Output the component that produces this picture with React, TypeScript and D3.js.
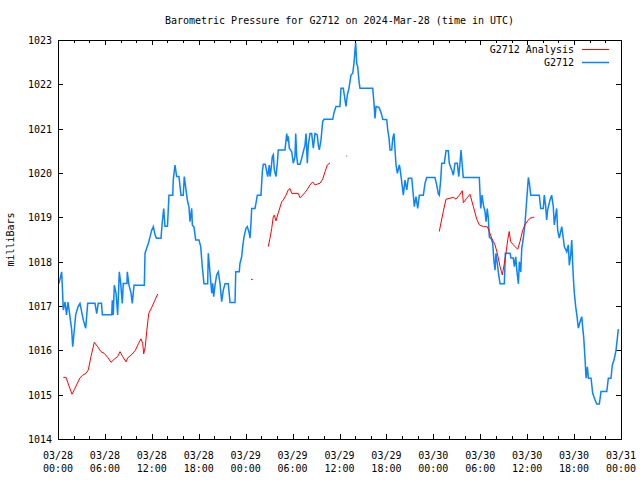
import React from "react";
import * as d3 from "d3";

const titleText = "Barometric Pressure for G2712 on 2024-Mar-28 (time in UTC)";
const yLabel = "milliBars";
const seriesNames = ["G2712 Analysis", "G2712"];
const xTickDates = ["03/28", "03/28", "03/28", "03/28", "03/29", "03/29", "03/29", "03/29", "03/30", "03/30", "03/30", "03/30", "03/31"];
const xTickTimes = ["00:00", "06:00", "12:00", "18:00", "00:00", "06:00", "12:00", "18:00", "00:00", "06:00", "12:00", "18:00", "00:00"];
const yTicks = [1014, 1015, 1016, 1017, 1018, 1019, 1020, 1021, 1022, 1023];

// hours since 03/28 00:00 UTC, pressure (mb)
const g2712: [number, number][] = [
  [0.13, 1017.51], [0.47, 1017.77], [0.68, 1016.91], [0.9, 1017.09], [1.09, 1016.8], [1.28, 1017.09], [1.47, 1016.84],
  [1.75, 1016.46], [1.88, 1016.08], [2.05, 1016.39], [2.26, 1016.8], [2.56, 1016.98], [2.81, 1017.06], [3.24, 1016.68],
  [3.54, 1016.5], [3.8, 1017.06], [4.73, 1017.06], [4.95, 1016.83], [5.15, 1017.06], [5.56, 1017.06], [5.67, 1016.8],
  [6.87, 1016.8], [6.94, 1017.13], [7.07, 1016.8], [7.2, 1017.47], [7.42, 1017.29], [7.63, 1016.8], [7.84, 1017.77],
  [8.02, 1017.51], [8.22, 1017.06], [8.35, 1017.51], [8.82, 1017.51], [8.86, 1017.77], [9.08, 1017.47], [9.34, 1017.29],
  [9.5, 1017.06], [9.72, 1017.47], [11.04, 1017.47], [11.13, 1018.19], [11.55, 1018.41], [11.77, 1018.56], [11.98, 1018.71],
  [12.19, 1018.79], [12.41, 1018.6], [12.6, 1018.53], [13.17, 1018.53], [13.34, 1018.9], [13.52, 1019.2], [13.68, 1018.8],
  [14.0, 1018.8], [14.19, 1019.5], [14.67, 1019.5], [14.74, 1019.84], [14.96, 1020.18], [15.18, 1019.92], [15.47, 1019.92],
  [15.73, 1019.5], [16.02, 1019.5], [16.15, 1019.92], [16.37, 1019.62], [16.54, 1019.39], [16.75, 1019.23], [16.88, 1018.9],
  [17.1, 1019.2], [17.18, 1018.83], [17.39, 1018.78], [17.61, 1018.49], [18.03, 1018.49], [18.25, 1018.34], [18.45, 1017.89],
  [18.67, 1017.5], [19.14, 1017.5], [19.22, 1018.19], [19.37, 1017.89], [19.66, 1017.29], [19.78, 1017.51], [19.91, 1017.21],
  [20.08, 1017.47], [20.29, 1017.7], [20.5, 1017.77], [20.72, 1017.51], [20.93, 1017.1], [21.14, 1017.36], [21.36, 1017.5],
  [21.78, 1017.5], [22.0, 1017.08], [22.64, 1017.08], [22.73, 1017.77], [23.18, 1017.77], [23.27, 1017.96], [23.49, 1018.11],
  [23.62, 1018.34], [23.79, 1018.56], [24.04, 1018.75], [24.21, 1018.79], [24.46, 1018.64], [24.55, 1018.53], [24.68, 1018.87],
  [24.77, 1019.2], [25.19, 1019.2], [25.32, 1019.32], [25.49, 1019.5], [25.96, 1019.5], [26.13, 1020.03], [26.26, 1020.2],
  [26.51, 1020.2], [26.69, 1020.03], [26.82, 1019.92], [27.02, 1020.18], [27.11, 1019.92], [27.24, 1020.07], [27.41, 1020.37],
  [27.54, 1020.41], [27.66, 1020.07], [27.88, 1019.92], [28.05, 1020.22], [28.17, 1020.52], [29.03, 1020.52], [29.25, 1020.89],
  [29.37, 1020.71], [29.45, 1020.83], [29.58, 1020.56], [29.89, 1020.48], [30.09, 1020.22], [30.31, 1020.37], [30.4, 1020.89],
  [30.53, 1020.37], [30.65, 1020.2], [30.95, 1020.2], [31.17, 1020.33], [31.37, 1020.48], [31.59, 1020.63], [31.72, 1020.89],
  [31.88, 1020.22], [32.01, 1020.63], [32.23, 1020.89], [32.44, 1020.89], [32.65, 1020.56], [32.87, 1020.89], [33.16, 1020.86],
  [33.29, 1020.63], [33.42, 1020.52], [33.63, 1020.74], [33.85, 1021.16], [34.02, 1021.21], [35.13, 1021.21], [35.3, 1021.36],
  [35.55, 1021.5], [36.06, 1021.5], [36.19, 1021.91], [36.49, 1021.91], [36.7, 1021.65], [36.83, 1021.5], [37.0, 1021.76],
  [37.21, 1021.91], [37.34, 1022.06], [37.47, 1022.21], [37.69, 1022.25], [37.85, 1022.47], [37.98, 1022.77], [38.07, 1022.93],
  [38.2, 1022.47], [38.33, 1022.4], [38.4, 1022.25], [38.53, 1022.02], [38.62, 1021.91], [40.25, 1021.91], [40.41, 1021.57],
  [40.54, 1021.23], [40.67, 1021.5], [41.05, 1021.48], [41.27, 1021.38], [41.4, 1021.31], [41.53, 1021.21], [42.04, 1021.2],
  [42.17, 1020.97], [42.34, 1020.78], [42.46, 1020.52], [42.68, 1020.52], [42.81, 1020.78], [42.97, 1020.89], [43.1, 1020.52],
  [43.23, 1020.18], [43.4, 1019.99], [43.65, 1020.18], [43.74, 1020.1], [43.96, 1019.8], [44.16, 1019.5], [44.38, 1019.84],
  [44.6, 1019.62], [44.8, 1019.88], [45.24, 1019.88], [45.44, 1019.5], [45.57, 1019.24], [45.78, 1019.47], [46.0, 1019.2],
  [46.21, 1019.5], [46.72, 1019.5], [46.94, 1019.77], [47.15, 1019.9], [48.21, 1019.9], [48.43, 1019.73], [48.63, 1019.54],
  [48.76, 1019.5], [48.94, 1019.84], [49.07, 1020.22], [49.4, 1020.22], [49.62, 1020.5], [49.92, 1020.5], [50.04, 1020.22],
  [50.35, 1020.07], [50.56, 1019.95], [50.77, 1020.22], [51.07, 1020.22], [51.25, 1019.92], [51.41, 1020.22], [51.54, 1020.52],
  [51.71, 1020.14], [51.83, 1019.9], [53.88, 1019.9], [53.97, 1019.54], [54.06, 1019.2], [54.23, 1019.5], [54.4, 1019.28],
  [54.61, 1019.13], [54.74, 1018.9], [54.9, 1019.2], [55.03, 1018.98], [55.16, 1018.56], [55.46, 1018.5], [55.59, 1018.41],
  [55.76, 1018.0], [55.89, 1017.81], [56.01, 1018.19], [56.18, 1017.96], [56.36, 1017.7], [56.53, 1017.5], [57.08, 1017.5],
  [57.21, 1018.19], [57.81, 1018.19], [57.94, 1018.08], [58.23, 1018.08], [58.36, 1017.89], [58.54, 1018.11], [58.67, 1017.81],
  [58.88, 1017.5], [59.0, 1018.0], [59.18, 1017.77], [59.31, 1018.3], [59.51, 1018.53], [59.73, 1018.87], [59.85, 1019.17],
  [60.02, 1019.58], [60.15, 1019.9], [60.28, 1019.77], [60.46, 1019.5], [61.55, 1019.5], [61.73, 1019.2], [62.06, 1019.2],
  [62.19, 1019.5], [62.37, 1019.24], [62.49, 1018.94], [62.62, 1019.17], [62.92, 1019.39], [63.13, 1019.5], [63.34, 1019.24],
  [63.47, 1018.83], [63.77, 1019.2], [63.9, 1018.71], [64.11, 1018.53], [64.42, 1018.79], [64.62, 1018.53], [64.75, 1018.34],
  [65.06, 1018.22], [65.26, 1018.38], [65.39, 1017.92], [65.57, 1018.15], [65.7, 1018.49], [65.82, 1017.96], [65.9, 1017.66],
  [66.03, 1017.29], [66.21, 1016.98], [66.38, 1016.76], [66.54, 1016.5], [66.76, 1016.64], [66.98, 1016.76], [67.11, 1016.5],
  [67.24, 1016.27], [67.41, 1015.78], [67.53, 1015.37], [67.7, 1015.63], [67.83, 1015.37], [68.17, 1015.37], [68.38, 1015.03],
  [68.68, 1014.88], [68.9, 1014.79], [69.23, 1014.79], [69.44, 1015.07], [70.18, 1015.07], [70.38, 1015.37], [70.72, 1015.37],
  [70.89, 1015.67], [71.11, 1015.78], [71.36, 1016.0], [71.53, 1016.27], [71.66, 1016.48],
];

// null pressure = gap in the analysis series
const g2712Analysis: [number, number | null][] = [
  [0.68, 1015.39], [1.02, 1015.39], [1.79, 1015.01], [2.08, 1015.11], [2.81, 1015.38], [3.16, 1015.44], [3.58, 1015.48],
  [3.88, 1015.56], [4.22, 1015.86], [4.64, 1016.18], [5.08, 1016.08], [5.5, 1015.97], [5.92, 1015.93], [6.36, 1015.84],
  [6.78, 1015.73], [7.2, 1015.8], [7.63, 1015.86], [7.93, 1015.97], [8.27, 1015.86], [8.7, 1015.74], [8.91, 1015.83],
  [9.34, 1015.89], [9.89, 1016.0], [10.32, 1016.16], [10.61, 1016.26], [10.83, 1016.16], [10.96, 1015.92], [11.16, 1016.08],
  [11.34, 1016.42], [11.6, 1016.83], [12.02, 1016.98], [12.32, 1017.1], [12.75, 1017.27],
  [18.0, null],
  [24.68, 1017.6], [24.9, 1017.6],
  [25.5, null],
  [26.89, 1018.34], [27.11, 1018.53], [27.33, 1018.75], [27.53, 1019.01], [27.66, 1019.05], [27.88, 1018.92], [28.17, 1019.1],
  [28.61, 1019.35], [28.81, 1019.39], [29.16, 1019.5], [29.45, 1019.62], [29.67, 1019.65], [29.89, 1019.54], [30.73, 1019.54],
  [30.95, 1019.44], [31.29, 1019.5], [31.59, 1019.56], [31.88, 1019.63], [32.23, 1019.73], [32.57, 1019.8], [32.87, 1019.73],
  [33.16, 1019.75], [33.51, 1019.77], [33.85, 1019.86], [34.15, 1020.03], [34.44, 1020.18], [34.79, 1020.23],
  [35.5, null],
  [36.83, 1020.38], [36.92, 1020.38],
  [40.0, null],
  [48.76, 1018.68], [49.27, 1019.13], [49.62, 1019.41], [50.13, 1019.43], [50.56, 1019.45], [50.9, 1019.41], [51.33, 1019.5],
  [51.71, 1019.6], [51.84, 1019.33], [52.27, 1019.43], [52.69, 1019.52], [53.12, 1019.24], [53.55, 1018.96], [53.88, 1018.83],
  [54.4, 1018.79], [54.9, 1018.79], [55.16, 1018.68], [55.46, 1018.53], [55.89, 1018.38], [56.18, 1018.19], [56.53, 1017.89],
  [56.82, 1017.7], [57.04, 1017.92], [57.29, 1018.19], [57.51, 1018.49], [57.71, 1018.68], [57.89, 1018.45], [58.23, 1018.38],
  [58.79, 1018.28], [59.08, 1018.45], [59.43, 1018.71], [59.72, 1018.83], [60.06, 1018.92], [60.36, 1018.98], [60.71, 1019.0],
  [60.91, 1019.0],
];

const W = 640, H = 480;
const M = { left: 58, right: 621, top: 40, bottom: 439 };
const FONT = "'DejaVu Sans Mono', 'Liberation Mono', monospace";
const BLUE = "#0a84ff";
const RED = "#ff0000";

export default function App() {
  const x = d3.scaleLinear().domain([0, 72]).range([M.left, M.right]);
  const y = d3.scaleLinear().domain([1014, 1023]).range([M.bottom, M.top]);

  const lineBlue = d3.line<[number, number]>().x(d => x(d[0])).y(d => y(d[1]))(g2712) || "";
  const lineRed = d3
    .line<[number, number | null]>()
    .defined(d => d[1] !== null)
    .x(d => x(d[0]))
    .y(d => y(d[1] as number))(g2712Analysis) || "";

  const majorX = d3.range(0, 73, 6);
  const minorX = d3.range(0, 73, 2).filter(h => h % 6 !== 0);

  return (
    <svg width={W} height={H} style={{ position: "absolute", left: 0, top: 0, background: "#fff" }}
      fontFamily={FONT} fontSize={10}>
      <rect x={0} y={0} width={W} height={H} fill="#fff" />
      <text x={(M.left + M.right) / 2} y={24} textAnchor="middle" fill="#000">{titleText}</text>

      <g shapeRendering="crispEdges" stroke="#000" strokeWidth={1}>
        {yTicks.map(v => (
          <g key={"yt" + v}>
            <line x1={M.left} x2={M.left + 5} y1={Math.round(y(v)) + 0.5} y2={Math.round(y(v)) + 0.5} />
            <line x1={M.right - 5} x2={M.right} y1={Math.round(y(v)) + 0.5} y2={Math.round(y(v)) + 0.5} />
          </g>
        ))}
        {majorX.map(h => (
          <g key={"xt" + h}>
            <line x1={Math.round(x(h)) + 0.5} x2={Math.round(x(h)) + 0.5} y1={M.bottom} y2={M.bottom - 5} />
            <line x1={Math.round(x(h)) + 0.5} x2={Math.round(x(h)) + 0.5} y1={M.top} y2={M.top + 5} />
          </g>
        ))}
        {minorX.map(h => (
          <g key={"xm" + h}>
            <line x1={Math.round(x(h)) + 0.5} x2={Math.round(x(h)) + 0.5} y1={M.bottom} y2={M.bottom - 3} />
            <line x1={Math.round(x(h)) + 0.5} x2={Math.round(x(h)) + 0.5} y1={M.top} y2={M.top + 3} />
          </g>
        ))}
      </g>

      {yTicks.map(v => (
        <text key={"yl" + v} x={M.left - 6} y={y(v) + 4} textAnchor="end" fill="#000">{v}</text>
      ))}
      {majorX.map((h, i) => (
        <g key={"xl" + h}>
          <text x={x(h)} y={459} textAnchor="middle" fill="#000">{xTickDates[i]}</text>
          <text x={x(h)} y={472} textAnchor="middle" fill="#000">{xTickTimes[i]}</text>
        </g>
      ))}
      <text transform={`translate(14,${(M.top + M.bottom) / 2}) rotate(-90)`} textAnchor="middle" fill="#000">{yLabel}</text>

      <path d={lineBlue} fill="none" stroke={BLUE} strokeWidth={1.5} strokeLinejoin="miter" />
      <path d={lineRed} fill="none" stroke={RED} strokeWidth={1} />

      <text x={574} y={53} textAnchor="end" fill="#000">{seriesNames[0]}</text>
      <line x1={582} x2={609} y1={49.5} y2={49.5} stroke={RED} strokeWidth={1} />
      <text x={574} y={66} textAnchor="end" fill="#000">{seriesNames[1]}</text>
      <line x1={582} x2={609} y1={62.5} y2={62.5} stroke={BLUE} strokeWidth={1.5} />

      <rect x={M.left + 0.5} y={M.top + 0.5} width={M.right - M.left} height={M.bottom - M.top}
        fill="none" stroke="#000" strokeWidth={1} shapeRendering="crispEdges" />
    </svg>
  );
}
